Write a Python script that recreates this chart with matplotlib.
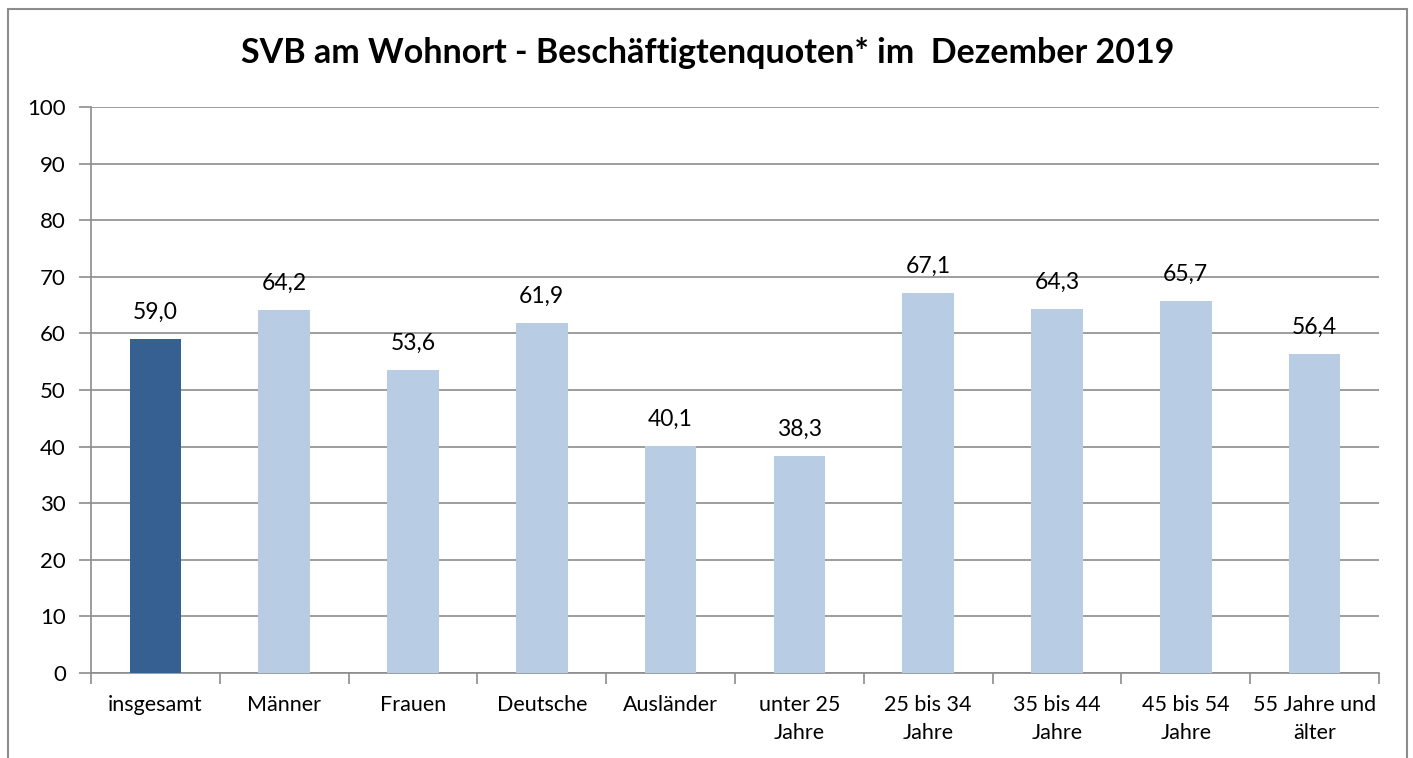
import matplotlib
matplotlib.use("Agg")
import matplotlib.pyplot as plt
from matplotlib.patches import Rectangle

categories = ["insgesamt", "Männer", "Frauen", "Deutsche", "Ausländer",
              "unter 25\nJahre", "25 bis 34\nJahre", "35 bis 44\nJahre",
              "45 bis 54\nJahre", "55 Jahre und\nälter"]
values = [59.0, 64.2, 53.6, 61.9, 40.1, 38.3, 67.1, 64.3, 65.7, 56.4]
yticks = [0, 10, 20, 30, 40, 50, 60, 70, 80, 90, 100]
title = "SVB am Wohnort - Beschäftigtenquoten* im  Dezember 2019"

plt.rcParams['font.family'] = ['Lato', 'DejaVu Sans']

W, H = 1413, 758
fig = plt.figure(figsize=(W / 100, H / 100), dpi=100)

# outer chart border (bottom cut off)
fig.add_artist(Rectangle((8 / W, -0.05), (1407 - 8) / W, 1.05 - 9 / H,
                         transform=fig.transFigure, fill=False,
                         edgecolor="#8c8c8c", linewidth=1.5))

left, right, top, bottom = 91, 1379, 107, 673
ax = fig.add_axes([left / W, 1 - bottom / H, (right - left) / W, (bottom - top) / H])

colors = ["#366092"] + ["#B8CCE4"] * (len(values) - 1)
x = list(range(len(values)))
ax.bar(x, values, width=0.40, color=colors, zorder=3)
ax.set_xlim(-0.5, len(values) - 0.5)
ax.set_ylim(0, 100)
ax.set_yticks(yticks)
ax.set_yticklabels([str(t) for t in yticks], fontsize=16)
ax.grid(axis="y", color="#8c8c8c", linewidth=1.2, zorder=0)
ax.set_axisbelow(True)

for s in ["top", "right"]:
    ax.spines[s].set_visible(False)
for s in ["left", "bottom"]:
    ax.spines[s].set_color("#8c8c8c")
    ax.spines[s].set_linewidth(1.2)

ax.tick_params(axis="y", length=9, width=1.2, color="#8c8c8c", pad=9)
ax.set_xticks([i + 0.5 for i in range(-1, len(values))], minor=False)
ax.set_xticklabels([])
ax.tick_params(axis="x", which="major", length=8, width=1.2, color="#8c8c8c")
ax.set_xticks(x, minor=True)
ax.set_xticklabels(categories, minor=True, fontsize=15.5, linespacing=1.5)
ax.tick_params(axis="x", which="minor", length=0, pad=16)
for lbl in ax.get_xticklabels(minor=True):
    lbl.set_verticalalignment("top")

for xi, v in zip(x, values):
    ax.annotate(f"{v:.1f}".replace(".", ","), (xi, v), xytext=(0, 19),
                textcoords="offset points", ha="center", va="center",
                fontsize=16.5)

fig.text(708 / W, 1 - 53 / H, title, ha="center", va="center",
         fontsize=24.5, fontweight="bold")

fig.savefig("out.png", dpi=100)
